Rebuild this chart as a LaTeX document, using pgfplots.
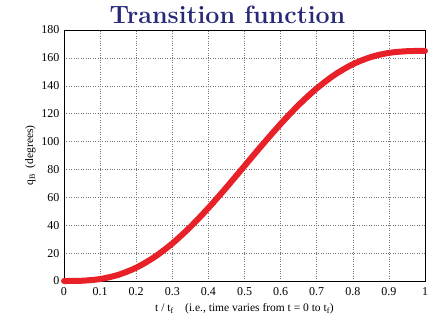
\documentclass[border=0pt]{standalone}
\usepackage{fontspec}
\setmainfont{Liberation Serif}
\newfontfamily\lmr{Latin Modern Roman}
\usepackage{pgfplots}
\pgfplotsset{compat=1.18}
\definecolor{titleblue}{RGB}{40,40,120}
\definecolor{curvered}{RGB}{232,32,40}
\begin{document}
\begin{tikzpicture}
\useasboundingbox (-64pt,-44pt) rectangle (369pt,281pt);
\begin{axis}[
  at={(0pt,0pt)}, anchor=south west,
  scale only axis, width=361pt, height=251pt,
  xmin=0, xmax=1, ymin=0, ymax=180,
  xtick={0,0.1,...,1}, ytick={0,20,...,180},
  xticklabels={0,0.1,0.2,0.3,0.4,0.5,0.6,0.7,0.8,0.9,1},
  /pgf/number format/assume math mode=true,
  tick label style={font=\fontsize{12}{14}\selectfont},
  xticklabel style={yshift=-3pt},
  yticklabel style={xshift=-1pt},
  major tick length=0pt,
  grid=major,
  grid style={black!55, dotted, line width=0.5pt},
  axis line style={black, line width=0.8pt},
  title={\lmr\bfseries Transition function},
  title style={font=\fontsize{25}{29}\selectfont, text=titleblue, at={(0.5,1)}, anchor=south, yshift=-3pt, xshift=-17pt},
  xlabel={t / t\textsubscript{f}\quad(i.e., time varies from t = 0 to t\textsubscript{f})},
  ylabel={q\textsubscript{B}\ \ (degrees)},
  label style={font=\fontsize{11.5}{13}\selectfont},
  xlabel style={yshift=-1pt},
  ylabel style={yshift=-1pt},
  clip=false,
]
\addplot[curvered, line width=6pt, smooth, line cap=round] coordinates {
(0,0) (0.05,0.191) (0.1,1.412) (0.15,4.391) (0.2,9.557) (0.25,17.080)
(0.3,26.908) (0.35,38.803) (0.4,52.378) (0.45,67.134) (0.5,82.5)
(0.55,97.866) (0.6,112.622) (0.65,126.197) (0.7,138.092) (0.75,147.920)
(0.8,155.443) (0.85,160.609) (0.9,163.588) (0.95,164.809) (1,165)
};
\end{axis}
\end{tikzpicture}
\end{document}
